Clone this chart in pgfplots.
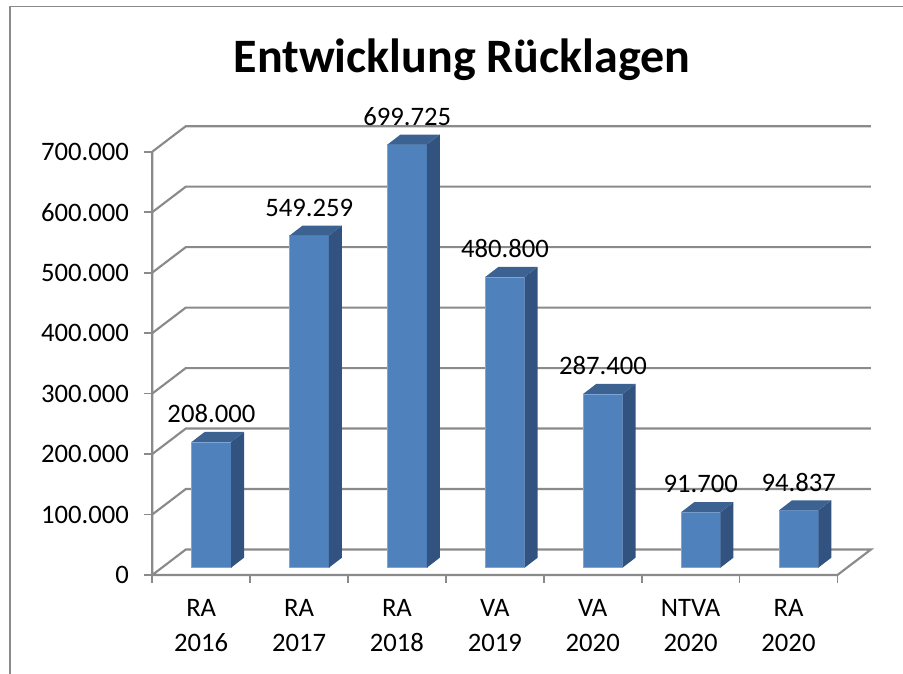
\documentclass[border=0pt]{standalone}
\usepackage{fontspec}
\setmainfont{Carlito}
\usepackage{pgfplots}
\pgfplotsset{compat=1.18}
\usepackage{pgfplotstable}

\definecolor{gridc}{HTML}{8A8A8A}
\definecolor{barfront}{HTML}{4F81BD}
\definecolor{barside}{HTML}{325380}
\definecolor{bartop}{HTML}{3C6292}
\definecolor{baredge}{HTML}{7FA5D6}

\pgfplotstableread{
x   v
0.5 208000
1.5 549259
2.5 699725
3.5 480800
4.5 287400
5.5 91700
6.5 94837
}\rucklagen

% 1 px of the reference = 0.75pt; marks sit on the top centre of the front face
\def\hw{14.75pt}
\pgfdeclareplotmark{bar side}{%
  \pgfkeys{/pgf/fpu=true,/pgf/fpu/output format=fixed}%
  \pgfmathparse{\barval*0.000453525}\global\let\hh\pgfmathresult
  \pgfkeys{/pgf/fpu=false}%
  \pgfpathmoveto{\pgfpoint{\hw}{0pt}}%
  \pgfpathlineto{\pgfpoint{\hw+9.75pt}{7.5pt}}%
  \pgfpathlineto{\pgfpoint{\hw+9.75pt}{7.5pt-\hh pt}}%
  \pgfpathlineto{\pgfpoint{\hw}{-\hh pt}}%
  \pgfpathclose\pgfusepathqfill}
\pgfdeclareplotmark{bar top}{%
  \pgfpathmoveto{\pgfpoint{-\hw}{0pt}}%
  \pgfpathlineto{\pgfpoint{-\hw+9.75pt}{7.5pt}}%
  \pgfpathlineto{\pgfpoint{\hw+9.75pt}{7.5pt}}%
  \pgfpathlineto{\pgfpoint{\hw}{0pt}}%
  \pgfpathclose\pgfusepathqfill}

\begin{document}
\begin{tikzpicture}[x=.75pt,y=.75pt]
\path[use as bounding box] (0,0) rectangle (903,674);
\draw[gridc,line width=1.1pt] (10,0) -- (10,667.5) -- (903,667.5);
\node[font=\fontsize{36}{42}\selectfont\bfseries] at (462,614) {Entwicklung Rücklagen};
\begin{axis}[
    at={(114.2pt,74.25pt)}, anchor=south west,
    scale only axis, width=539pt, height=336.75pt,
    xmin=0, xmax=7.3425, ymin=0, ymax=742500,
    clip=false,
    axis line style={draw=none},
    font=\fontsize{20}{25.8}\selectfont,
    /pgf/number format/fixed,
    /pgf/number format/precision=0,
    /pgf/number format/assume math mode=true,
    /pgf/number format/1000 sep={.},
    scaled y ticks=false,
    tick align=outside,
    xtick pos=bottom, ytick pos=left,
    ytick={0,100000,...,700000},
    xtick={0.5,1.5,2.5,3.5,4.5,5.5,6.5},
    xticklabels={{RA\\2016},{RA\\2017},{RA\\2018},{VA\\2019},{VA\\2020},{NTVA\\2020},{RA\\2020}},
    xticklabel style={align=center, yshift=-9pt},
    yticklabel style={xshift=-8pt},
    minor xtick={0,1,...,7},
    major x tick style={draw=none},
    y tick style={gridc, line width=1.3pt},
    minor x tick style={gridc, line width=1.3pt},
    major tick length=6pt, minor tick length=6pt,
]
% floor, left wall and back wall
\addplot[gridc, line width=1.6pt, forget plot] coordinates {(0,700000) (0,0) (7,0) (7.3425,42170) (0.3425,42170) (0,0)};
\addplot[gridc, line width=1.6pt, forget plot] coordinates {(0,100000) (0.3425,142170) (7.3425,142170)};
\addplot[gridc, line width=1.6pt, forget plot] coordinates {(0,200000) (0.3425,242170) (7.3425,242170)};
\addplot[gridc, line width=1.6pt, forget plot] coordinates {(0,300000) (0.3425,342170) (7.3425,342170)};
\addplot[gridc, line width=1.6pt, forget plot] coordinates {(0,400000) (0.3425,442170) (7.3425,442170)};
\addplot[gridc, line width=1.6pt, forget plot] coordinates {(0,500000) (0.3425,542170) (7.3425,542170)};
\addplot[gridc, line width=1.6pt, forget plot] coordinates {(0,600000) (0.3425,642170) (7.3425,642170)};
\addplot[gridc, line width=1.6pt, forget plot] coordinates {(0,700000) (0.3425,742170) (7.3425,742170)};
% bars: side, top, front
\addplot[only marks, scatter, scatter src=y, mark=bar side, xshift=7.65pt, yshift=5.5pt,
    visualization depends on={rawy \as \barval},
    scatter/use mapped color={fill=barside, draw=none}] table[x=x,y=v] {\rucklagen};
\addplot[only marks, scatter, scatter src=y, mark=bar top, xshift=7.65pt, yshift=5.5pt,
    scatter/use mapped color={fill=bartop, draw=none}] table[x=x,y=v] {\rucklagen};
\addplot[ybar, bar shift=0pt, bar width=29.5pt, fill=barfront, draw=baredge, line width=.4pt,
    xshift=7.65pt, yshift=5.5pt,
    point meta=explicit,
    nodes near coords={\pgfmathprintnumber{\pgfplotspointmeta}},
    every node near coord/.append style={anchor=center, yshift=21pt, text=black}]
    table[x=x,y=v,meta=v] {\rucklagen};
\end{axis}
\end{tikzpicture}
\end{document}
